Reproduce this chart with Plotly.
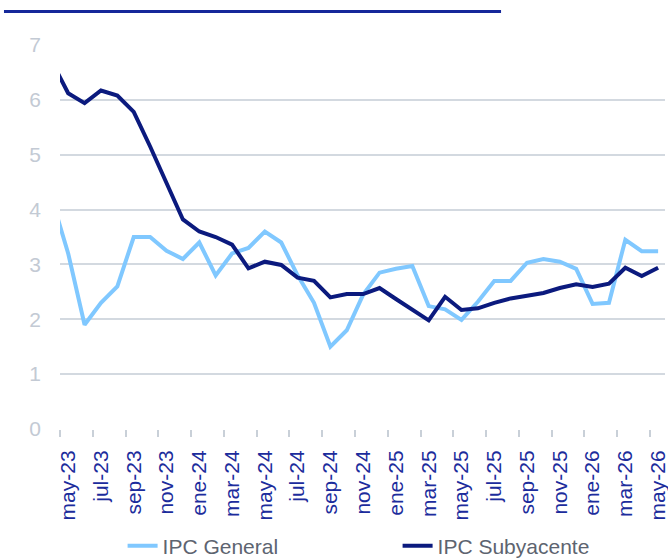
import plotly.graph_objects as go

meses = ["abr-23", "may-23", "jun-23", "jul-23", "ago-23", "sep-23", "oct-23", "nov-23", "dic-23",
         "ene-24", "feb-24", "mar-24", "abr-24", "may-24", "jun-24", "jul-24", "ago-24", "sep-24",
         "oct-24", "nov-24", "dic-24", "ene-25", "feb-25", "mar-25", "abr-25", "may-25", "jun-25",
         "jul-25", "ago-25", "sep-25", "oct-25", "nov-25", "dic-25", "ene-26", "feb-26", "mar-26",
         "abr-26", "may-26"]

ipc_general = [4.2, 3.2, 1.9, 2.3, 2.6, 3.5, 3.5, 3.25, 3.1,
               3.4, 2.8, 3.2, 3.3, 3.6, 3.4, 2.8, 2.3, 1.5,
               1.8, 2.45, 2.85, 2.92, 2.97, 2.24, 2.18, 1.99, 2.32,
               2.7, 2.7, 3.03, 3.1, 3.05, 2.92, 2.28, 2.3, 3.45,
               3.24, 3.24]

ipc_subyacente = [6.7, 6.12, 5.94, 6.17, 6.08, 5.78, 5.15, 4.49, 3.82,
                  3.6, 3.5, 3.36, 2.93, 3.05, 2.99, 2.76, 2.7, 2.4,
                  2.46, 2.46, 2.57, 2.37, 2.17, 1.98, 2.41, 2.17, 2.2,
                  2.3, 2.38, 2.43, 2.48, 2.57, 2.64, 2.59, 2.65, 2.94,
                  2.79, 2.94]

y_ticks = [0, 1, 2, 3, 4, 5, 6, 7]

x = [i - 1 for i in range(len(meses))]
tick_pos = x[1::2]
tick_txt = meses[1::2]

FONT = "Liberation Sans, Arial, sans-serif"

fig = go.Figure()
fig.add_trace(go.Scatter(x=x, y=ipc_general, mode="lines", name="IPC General",
                         line=dict(color="#80c8ff", width=4)))
fig.add_trace(go.Scatter(x=x, y=ipc_subyacente, mode="lines", name="IPC Subyacente",
                         line=dict(color="#0b1a7e", width=4)))

fig.update_layout(
    width=668, height=559,
    margin=dict(l=60, r=3, t=45, b=130, autoexpand=False),
    paper_bgcolor="white", plot_bgcolor="white",
    font=dict(family=FONT, size=21),
    showlegend=True,
    legend=dict(orientation="h", x=0.558, xanchor="center", y=-0.305, yanchor="middle",
                font=dict(size=21, color="#5d6470"), entrywidth=230, traceorder="normal"),
    xaxis=dict(range=[-0.5, 36.42], tickmode="array", tickvals=tick_pos, ticktext=tick_txt,
               tickangle=-90, tickfont=dict(size=21, color="#1c2c9c"), automargin=False,
               ticklabeloverflow="allow",
               showgrid=False, zeroline=False, showline=False,
               ticks="outside", ticklen=0, ticklabelstandoff=12,
               minor=dict(tickmode="linear", tick0=-0.5, dtick=2, ticks="outside",
                          ticklen=7, tickcolor="#c9d0d8", tickwidth=1.5, showgrid=False)),
    yaxis=dict(range=[0, 7], tickvals=y_ticks, showgrid=True, gridcolor="#d3d9e0", gridwidth=1.5,
               zeroline=False, tickfont=dict(size=21, color="#c3cad4"), ticks="",
               ticklabelstandoff=18, automargin=False),
    shapes=[dict(type="line", xref="paper", yref="paper", x0=-0.0926, x1=0.729,
                 y0=1.087, y1=1.087, line=dict(color="#16289a", width=3))],
)

fig.write_html("out.html", config={"displayModeBar": False},
               post_script="document.body.style.margin='0';document.body.style.padding='0';")
